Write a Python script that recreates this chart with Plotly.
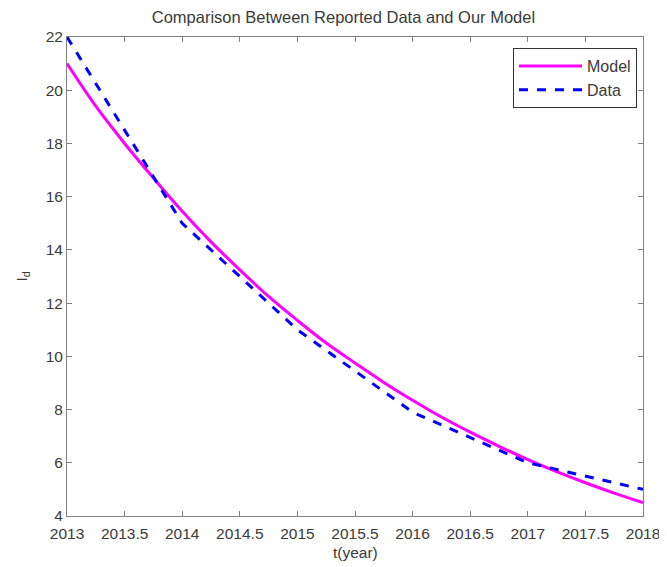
import plotly.graph_objects as go

# Model curve values
model_t = [2013, 2013.25, 2013.5, 2013.75, 2014, 2014.25, 2014.5, 2014.75, 2015,
           2015.25, 2015.5, 2015.75, 2016, 2016.25, 2016.5, 2016.75, 2017,
           2017.25, 2017.5, 2017.75, 2018]
model_v = [21.0, 19.4, 18.0, 16.7, 15.45, 14.3, 13.25, 12.25, 11.35,
           10.5, 9.75, 9.02, 8.35, 7.72, 7.15, 6.62, 6.12,
           5.67, 5.25, 4.86, 4.5]

# Reported data
data_t = [2013, 2014, 2015, 2016, 2017, 2018]
data_v = [22.0, 15.0, 11.0, 7.9, 6.0, 5.0]

x_ticks = [2013, 2013.5, 2014, 2014.5, 2015, 2015.5, 2016, 2016.5, 2017, 2017.5, 2018]
x_ticklabels = ["2013", "2013.5", "2014", "2014.5", "2015", "2015.5", "2016",
                "2016.5", "2017", "2017.5", "2018"]
y_ticks = [4, 6, 8, 10, 12, 14, 16, 18, 20, 22]

txt_color = "#3a3a3a"
font = dict(family="Liberation Sans, Arial", size=15.5, color=txt_color)
title_font = dict(family="Liberation Sans, Arial", size=16.5, color=txt_color)
legend_font = dict(family="Liberation Sans, Arial", size=16, color=txt_color)

fig = go.Figure()
fig.add_trace(go.Scatter(x=model_t, y=model_v, mode="lines", name="Model",
                         line=dict(color="#ff00ff", width=3, shape="spline")))
fig.add_trace(go.Scatter(x=data_t, y=data_v, mode="lines", name="Data",
                         line=dict(color="#0000ff", width=3, dash="dash")))

axis_common = dict(showline=True, linecolor="#808080", linewidth=1, mirror="ticks",
                   ticks="inside", ticklen=5, tickcolor="#808080", showgrid=False,
                   zeroline=False, tickfont=font, automargin=False)

fig.update_layout(
    width=659, height=559,
    margin=dict(l=59, r=24, t=29, b=51),
    paper_bgcolor="white", plot_bgcolor="white",
    title=dict(text="Comparison Between Reported Data and Our Model",
               x=0.509, xanchor="center", y=0.983, yanchor="middle",
               font=title_font),
    xaxis=dict(range=[2013, 2018], tickvals=x_ticks, ticktext=x_ticklabels,
               ticklabelstandoff=3, **axis_common),
    yaxis=dict(range=[4, 22], tickvals=y_ticks, ticklabelstandoff=0, **axis_common),
    legend=dict(x=0.9896, y=0.977, xanchor="right", yanchor="top",
                bordercolor="#333333", borderwidth=1, bgcolor="white",
                font=legend_font, itemwidth=63, tracegroupgap=0),
    showlegend=True,
    annotations=[
        dict(text="t(year)", xref="paper", yref="paper", x=0.5, y=-0.077,
             xanchor="center", yanchor="middle", showarrow=False, font=font),
        dict(text="I<sub>d</sub>", xref="paper", yref="paper", x=-0.078, y=0.5,
             xanchor="center", yanchor="middle", showarrow=False, textangle=-90,
             font=font),
    ],
)

fig.write_html("out.html")
